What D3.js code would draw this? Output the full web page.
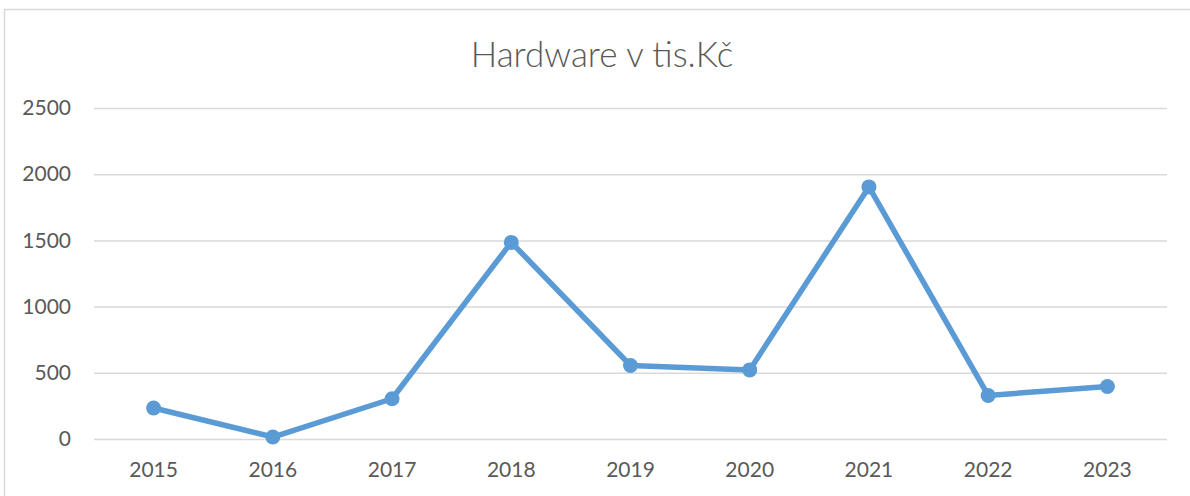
<!DOCTYPE html>
<html>
<head>
<meta charset="utf-8">
<script src="https://cdn.jsdelivr.net/npm/d3@7"></script>
<style>
  body { margin: 0; background: #fff; }
  svg { display: block; }
</style>
</head>
<body>
<div id="chart"></div>
<script>
// data
var years = ["2015", "2016", "2017", "2018", "2019", "2020", "2021", "2022", "2023"];
var hardware = [234, 15, 304, 1485, 555, 522, 1904, 329, 397];
var yTicks = [0, 500, 1000, 1500, 2000, 2500];
var title = "Hardware v tis.Kč";

var width = 1190, height = 496;
var margin = {top: 108, right: 23, bottom: 57, left: 94};
var _width = width - margin.left - margin.right,
    _height = height - margin.top - margin.bottom;

var svg = d3.select("#chart")
    .append("svg")
    .attr("width", width)
    .attr("height", height);

// chart frame (only top and left edges are visible)
svg.append("rect")
    .attr("x", 4.5).attr("y", 9.5)
    .attr("width", 1300).attr("height", 700)
    .attr("fill", "none")
    .attr("stroke", "#d9d9d9")
    .attr("stroke-width", 1.5);

svg.append("text")
    .attr("x", 602)
    .attr("y", 67)
    .attr("text-anchor", "middle")
    .attr("font-family", "Lato, sans-serif")
    .attr("font-weight", 300)
    .attr("font-size", 35)
    .attr("fill", "#595959")
    .text(title);

var g = svg.append("g")
    .attr("transform", "translate(" + margin.left + "," + margin.top + ")");

var xScale = d3.scaleBand()
    .domain(years)
    .range([0, _width]);

var yScale = d3.scaleLinear()
    .domain([0, 2500])
    .range([_height, 0]);

// gridlines
g.append("g")
    .attr("class", "grid")
    .call(d3.axisLeft(yScale)
        .tickValues(yTicks)
        .tickSize(-_width)
        .tickFormat(""))
    .call(function(a) {
        a.select(".domain").remove();
        a.selectAll("line").attr("stroke", "#d9d9d9").attr("stroke-width", 1.5);
    });

// y axis labels
g.append("g")
    .call(d3.axisLeft(yScale)
        .tickValues(yTicks)
        .tickFormat(d3.format("d"))
        .tickSize(0)
        .tickPadding(23))
    .call(function(a) {
        a.select(".domain").remove();
        a.selectAll("text")
            .attr("font-family", "Lato, sans-serif")
            .attr("font-size", 21)
            .attr("fill", "#595959");
    });

// x axis labels
g.append("g")
    .attr("transform", "translate(0," + _height + ")")
    .call(d3.axisBottom(xScale)
        .tickSize(0)
        .tickPadding(23))
    .call(function(a) {
        a.select(".domain").remove();
        a.selectAll("text")
            .attr("font-family", "Lato, sans-serif")
            .attr("font-size", 21)
            .attr("fill", "#595959");
    });

var pts = years.map(function(y, i) { return {year: y, value: hardware[i]}; });

g.append("path")
    .datum(pts)
    .attr("fill", "none")
    .attr("stroke", "#5b9bd5")
    .attr("stroke-width", 5.5)
    .attr("stroke-linejoin", "round")
    .attr("d", d3.line()
        .x(function(d) { return xScale(d.year) + xScale.bandwidth() / 2; })
        .y(function(d) { return yScale(d.value); }));

g.selectAll("circle")
    .data(pts)
    .enter().append("circle")
    .attr("cx", function(d) { return xScale(d.year) + xScale.bandwidth() / 2; })
    .attr("cy", function(d) { return yScale(d.value); })
    .attr("r", 7.5)
    .attr("fill", "#5b9bd5");
</script>
</body>
</html>
